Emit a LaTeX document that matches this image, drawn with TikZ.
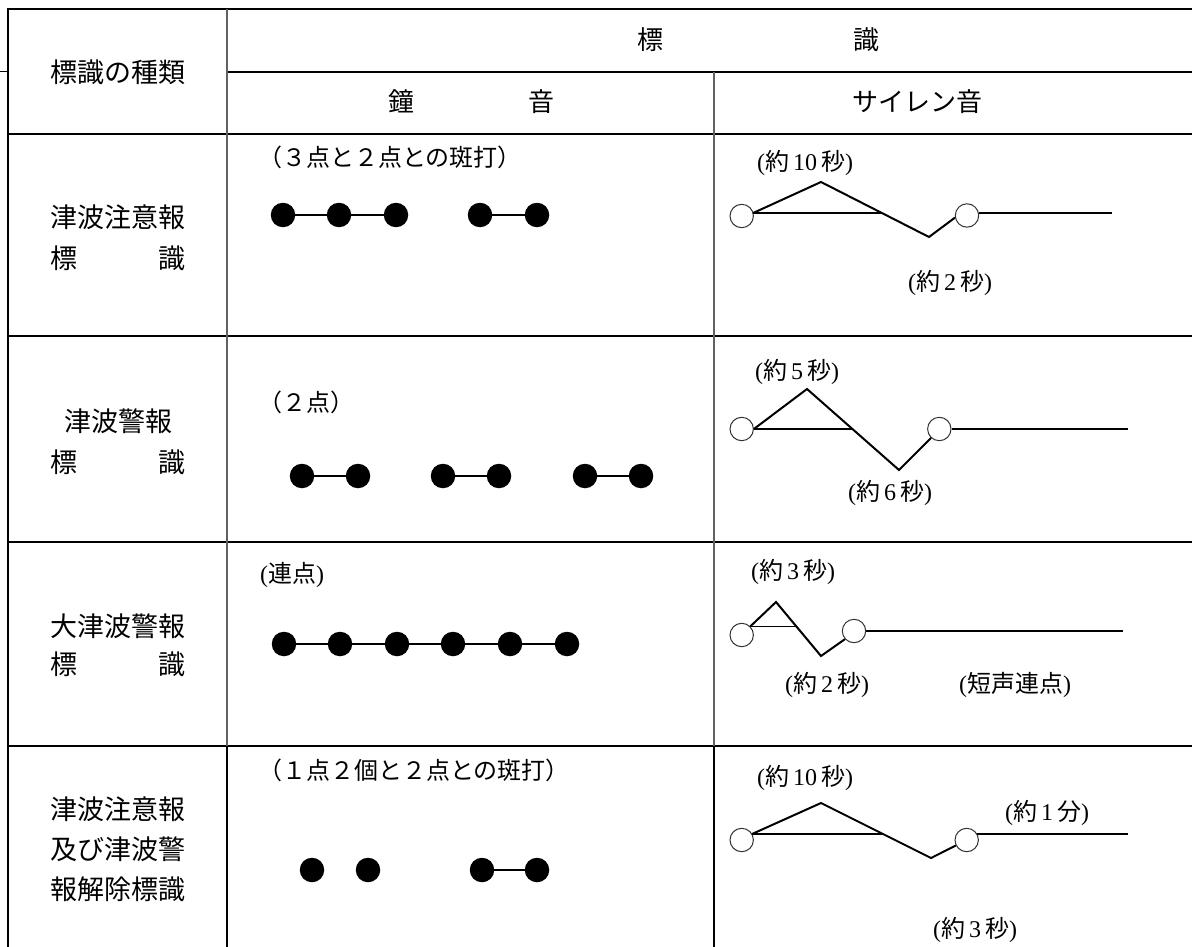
\documentclass[tikz,border=0pt]{standalone}
\usepackage{fontspec}
\setmainfont{Noto Sans CJK JP}
\newfontfamily\lat{Liberation Serif}
\begin{document}
\begin{tikzpicture}[x=1pt,y=-1pt,
  hline/.style={line width=2.3pt, black},
  vgray/.style={line width=1.8pt, black!62},
  vblack/.style={line width=2.3pt, black},
  kind/.style={font=\fontsize{27}{32}\selectfont, inner sep=0pt},
  head/.style={font=\fontsize{26}{30}\selectfont, inner sep=0pt},
  lbl/.style={font=\fontsize{24}{28}\selectfont, inner sep=0pt},
  bell/.style={circle, fill=black, minimum size=24.5pt, inner sep=0pt},
  bar/.style={line width=1.3pt},
  ring/.style={circle, draw=black!80, line width=1pt, minimum size=23.4pt, inner sep=0pt, fill=white},
  wave/.style={line width=2pt, line join=miter},
  tribase/.style={line width=1.5pt},
  longline/.style={line width=2pt}]
\useasboundingbox (0,0) rectangle (1192,947);
\fill[white] (0,0) rectangle (1192,947);

% ---------- table rules ----------
\draw[hline] (7,8.7) -- (1192,8.7);
\draw[hline] (227,72) -- (1192,72);
\draw[hline] (7,134) -- (1192,134);
\draw[hline] (7,336) -- (1192,336);
\draw[hline] (7,542) -- (1192,542);
\draw[hline] (7,746) -- (1192,746);
\draw[line width=1pt] (0,72) -- (8,72);
\draw[vblack] (8,8.7) -- (8,947);
\draw[vgray] (227,8.7) -- (227,746);
\draw[vblack] (227,746) -- (227,947);
\draw[vgray] (714,72) -- (714,746);
\draw[vblack] (714,746) -- (714,947);

% ---------- header ----------
\node[kind] (hkind) at (118,72) {標識の種類};
\node[head] (hsign) at (758,40) {\makebox[242pt]{標\hfill 識}};
\node[head] (hbell) at (471,102) {\makebox[166pt]{鐘\hfill 音}};
\node[head] (hsiren) at (917,102) {サイレン音};

% ---------- column 1 ----------
\node[kind] (k1a) at (118,217) {津波注意報};
\node[kind] (k1b) at (118,258) {\makebox[135pt]{標\hfill 識}};
\node[kind] (k2a) at (118,421) {津波警報};
\node[kind] (k2b) at (118,462) {\makebox[135pt]{標\hfill 識}};
\node[kind] (k3a) at (118,626) {大津波警報};
\node[kind] (k3b) at (118,664) {\makebox[135pt]{標\hfill 識}};
\node[kind] (k4a) at (118,809) {津波注意報};
\node[kind] (k4b) at (118,849) {及び津波警};
\node[kind] (k4c) at (118,889) {報解除標識};

% ---------- bell (column 2) ----------
\node[lbl, anchor=west] (b1t) at (258,157) {（３点と２点との斑打）};
\node[bell] (b11) at (283,215) {};
\node[bell] (b12) at (339,215) {};
\node[bell] (b13) at (396,215) {};
\node[bell] (b14) at (480,215) {};
\node[bell] (b15) at (537,215) {};
\draw[bar] (b11) -- (b12) -- (b13);
\draw[bar] (b14) -- (b15);

\node[lbl, anchor=west] (b2t) at (258,402) {（２点）};
\node[bell] (b21) at (302,476) {};
\node[bell] (b22) at (358,476) {};
\node[bell] (b23) at (443,476) {};
\node[bell] (b24) at (499,476) {};
\node[bell] (b25) at (585,476) {};
\node[bell] (b26) at (641,476) {};
\draw[bar] (b21) -- (b22);
\draw[bar] (b23) -- (b24);
\draw[bar] (b25) -- (b26);

\node[lbl, anchor=west] (b3t) at (260,575) {{\lat(}連点{\lat)}};
\node[bell] (b31) at (284,644) {};
\node[bell] (b32) at (340,644) {};
\node[bell] (b33) at (397,644) {};
\node[bell] (b34) at (453,644) {};
\node[bell] (b35) at (510,644) {};
\node[bell] (b36) at (567,644) {};
\draw[bar] (b31) -- (b32) -- (b33) -- (b34) -- (b35) -- (b36);

\node[lbl, anchor=west] (b4t) at (258,770) {（１点２個と２点との斑打）};
\node[bell] (b41) at (312,870) {};
\node[bell] (b42) at (368,870) {};
\node[bell] (b43) at (482,870) {};
\node[bell] (b44) at (537,870) {};
\draw[bar] (b43) -- (b44);

% ---------- siren (column 3) ----------
% row 1
\node[ring] (r1a) at (741.7,216) {};
\node[ring] (r1b) at (967,215.5) {};
\coordinate (r1p) at (821,182);
\coordinate (r1v) at (929,237);
\coordinate (r1k) at (882,213);
\coordinate (r1e) at (1112,213);
\draw[wave] (r1a.15) -- (r1p) -- (r1v) -- (r1b.190);
\draw[tribase] (r1a.15) -- (r1a.15 -| r1k);
\draw[longline] (r1b.12) -- (r1b.12 -| r1e);
\node[lbl] (s1t) at (805,163) {{\lat(}約\,{\lat 10}\,秒{\lat)}};
\node[lbl] (s1u) at (950,283) {{\lat(}約\,{\lat 2}\,秒{\lat)}};

% row 2
\node[ring] (r2a) at (741.7,429) {};
\node[ring] (r2b) at (939.3,429) {};
\coordinate (r2p) at (807,389);
\coordinate (r2v) at (899,470);
\coordinate (r2k) at (852.4,429);
\coordinate (r2e) at (1128,429);
\draw[wave] (r2a.0) -- (r2p) -- (r2v) -- (r2b.227);
\draw[tribase] (r2a.0) -- (r2k);
\draw[longline] (r2b.0) -- (r2e);
\node[lbl] (s2t) at (797,372) {{\lat(}約\,{\lat 5}\,秒{\lat)}};
\node[lbl] (s2u) at (890,493) {{\lat(}約\,{\lat 6}\,秒{\lat)}};

% row 3
\node[ring] (r3a) at (741.7,635) {};
\node[ring] (r3b) at (854,631) {};
\coordinate (r3p) at (776,602);
\coordinate (r3v) at (821,656);
\coordinate (r3k) at (797,627);
\coordinate (r3e) at (1123,631);
\draw[wave] (r3a.45) -- (r3p) -- (r3v) -- (r3b.222);
\draw[tribase] (r3a.45) -- (r3a.45 -| r3k);
\draw[longline] (r3b.0) -- (r3e);
\node[lbl] (s3t) at (793,572) {{\lat(}約\,{\lat 3}\,秒{\lat)}};
\node[lbl] (s3u) at (827,685) {{\lat(}約\,{\lat 2}\,秒{\lat)}};
\node[lbl] (s3v) at (1015,685) {{\lat(}短声連点{\lat)}};

% row 4
\node[ring] (r4a) at (741.7,840) {};
\node[ring] (r4b) at (966.7,840) {};
\coordinate (r4p) at (821,803);
\coordinate (r4v) at (931,858);
\coordinate (r4k) at (883.3,834);
\coordinate (r4e) at (1128,834);
\draw[wave] (r4a.30) -- (r4p) -- (r4v) -- (r4b.207);
\draw[tribase] (r4a.30) -- (r4a.30 -| r4k);
\draw[longline] (r4b.30) -- (r4b.30 -| r4e);
\node[lbl] (s4t) at (805,778) {{\lat(}約\,{\lat 10}\,秒{\lat)}};
\node[lbl] (s4u) at (1047,813) {{\lat(}約\,{\lat 1}\,分{\lat)}};
\node[lbl] (s4v) at (975,930) {{\lat(}約\,{\lat 3}\,秒{\lat)}};
\end{tikzpicture}
\end{document}
